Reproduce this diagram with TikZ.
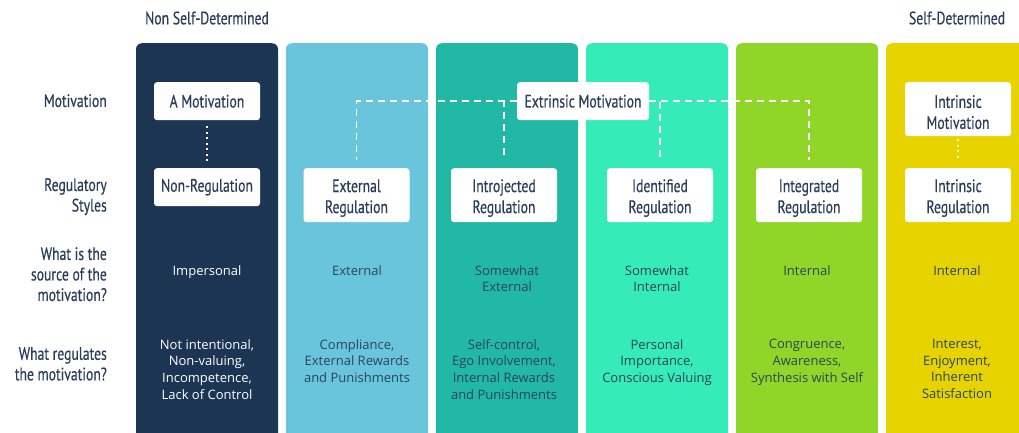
\documentclass[tikz,border=0pt]{standalone}
\usepackage{fontspec}
\setmainfont{Open Sans}
\newfontfamily\headfont[FakeStretch=0.76, FakeBold=0.4]{PT Sans}
\usepackage{tikz}
\usetikzlibrary{positioning, calc}

\definecolor{headtext}{HTML}{2A3E5C}
\definecolor{celltext}{HTML}{2D4558}
\definecolor{colA}{HTML}{1B3553}
\definecolor{colB}{HTML}{68C5DB}
\definecolor{colC}{HTML}{21B8A6}
\definecolor{colD}{HTML}{35EBB8}
\definecolor{colE}{HTML}{8FD628}
\definecolor{colF}{HTML}{E6D300}

% strut that pushes two-line box text down a little
\newcommand\tstrut{\rule{0pt}{18.5pt}}

\begin{document}
\begin{tikzpicture}[
  x=1pt, y=-1pt,
  band/.style={rectangle, rounded corners=6pt, minimum width=142pt, minimum height=420pt, anchor=north, inner sep=0pt},
  sbox/.style={rectangle, fill=white, rounded corners=3pt, minimum width=106pt, minimum height=38pt, anchor=north, inner sep=0pt, align=center, text=headtext, font=\headfont\fontsize{18}{21}\selectfont},
  tall/.style={minimum height=54pt},
  rowlabel/.style={anchor=north east, inner sep=0pt, align=right, text=headtext, font=\headfont\fontsize{18}{20.5}\selectfont},
  toplabel/.style={inner sep=0pt, text=headtext, font=\headfont\fontsize{18}{21}\selectfont},
  cell/.style={anchor=north, inner sep=0pt, align=center, text=celltext, font=\fontsize{13}{16.7}\selectfont},
  dashlink/.style={white, line width=1.5pt, dash pattern=on 7pt off 5pt, shorten >=8pt},
  dotlink/.style={white, line width=1.8pt, dash pattern=on 2pt off 3.5pt},
]
\useasboundingbox (0,0) rectangle (1019,432);
\clip (0,0) rectangle (1019,432);

% column bands
\node[band, fill=colA] (c1) at (207,43) {};
\node[band, fill=colB] (c2) at (357,43) {};
\node[band, fill=colC] (c3) at (507,43) {};
\node[band, fill=colD] (c4) at (657,43) {};
\node[band, fill=colE] (c5) at (807,43) {};
\node[band, fill=colF] (c6) at (957,43) {};

\node[toplabel] (nsd) at (207,18) {Non Self-Determined};
\node[toplabel] (sd) at (957,18) {Self-Determined};

% row labels
\node[rowlabel] (l1) at (107,94) {Motivation};
\node[rowlabel] (l2) at (107,178) {Regulatory\\Styles};
\node[rowlabel] (l3) at (107,247) {What is the\\source of the\\motivation?};
\node[rowlabel] (l4) at (107,347) {What regulates\\the motivation?};

% motivation boxes
\node[sbox] (m1) at (207,82) {A Motivation};
\node[sbox, minimum width=132pt] (m2) at (583,82) {Extrinsic Motivation};
\node[sbox, tall] (m3) at (958,82) {\tstrut Intrinsic\\Motivation};

% regulatory styles
\node[sbox] (r1) at (207,168) {Non-Regulation};
\node[sbox, tall] (r2) at (356.5,168) {\tstrut External\\Regulation};
\node[sbox, tall] (r3) at (504,168) {\tstrut Introjected\\Regulation};
\node[sbox, tall] (r4) at (660,168) {\tstrut Identified\\Regulation};
\node[sbox, tall] (r5) at (809,168) {\tstrut Integrated\\Regulation};
\node[sbox, tall] (r6) at (958,168) {\tstrut Intrinsic\\Regulation};

\draw[dotlink, shorten <=6pt, shorten >=7pt] (m1.south) -- (r1.north);
\draw[dotlink, white!75!colF, shorten <=3pt, shorten >=7pt] (m3.south) -- (r6.north);
\draw[dashlink] (m2.west) -| (r2.north);
\draw[dashlink] (m2.west) -| (r3.north);
\draw[dashlink] (m2.east) -| (r4.north);
\draw[dashlink] (m2.east) -| (r5.north);

% source of the motivation
\node[cell, text=white] (s1) at (207,265) {Impersonal};
\node[cell] (s2) at (357,265) {External};
\node[cell] (s3) at (507,265) {Somewhat\\External};
\node[cell] (s4) at (657,265) {Somewhat\\Internal};
\node[cell] (s5) at (807,265) {Internal};
\node[cell] (s6) at (957,265) {Internal};

% what regulates it
\node[cell, text=white] (g1) at (207,339) {Not intentional,\\Non-valuing,\\Incompetence,\\Lack of Control};
\node[cell] (g2) at (357,339) {Compliance,\\External Rewards\\and Punishments};
\node[cell] (g3) at (504,339) {Self-control,\\Ego Involvement,\\Internal Rewards\\and Punishments};
\node[cell] (g4) at (657,339) {Personal\\Importance,\\Conscious Valuing};
\node[cell] (g5) at (807,339) {Congruence,\\Awareness,\\Synthesis with Self};
\node[cell] (g6) at (957,339) {Interest,\\Enjoyment,\\Inherent\\Satisfaction};
\end{tikzpicture}
\end{document}
